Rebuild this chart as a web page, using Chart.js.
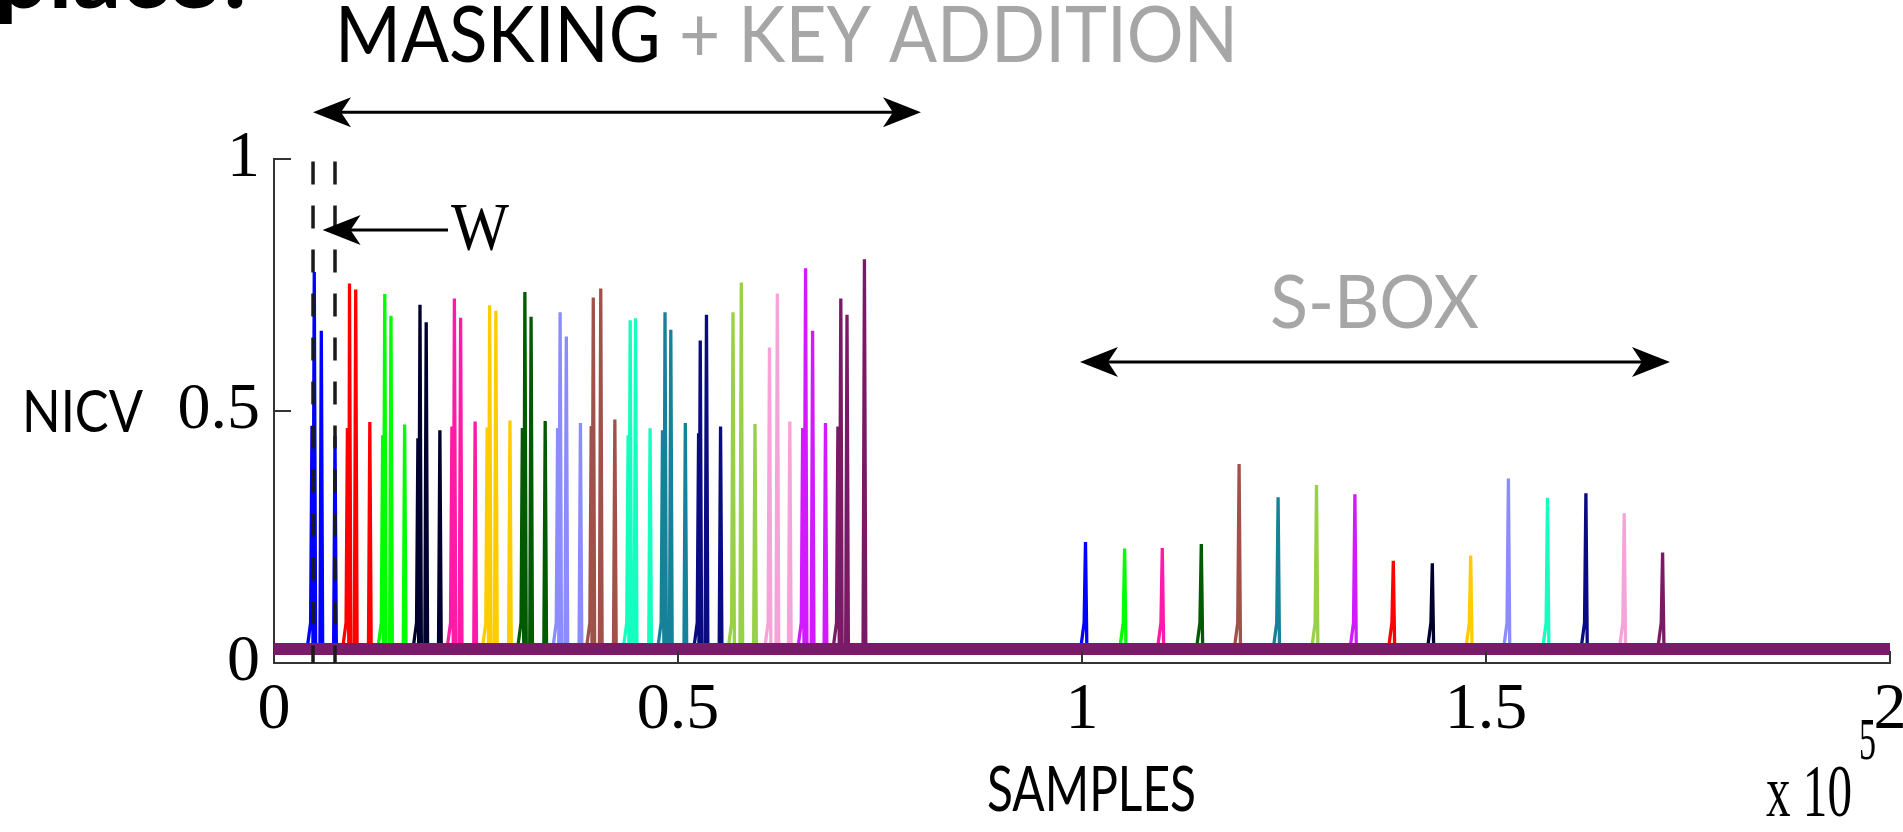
<!DOCTYPE html>
<html>
<head>
<meta charset="utf-8">
<script src="https://cdn.jsdelivr.net/npm/chart.js@4.4.1/dist/chart.umd.min.js"></script>
<style>
  html, body { margin: 0; padding: 0; background: #fff; }
  #wrap { width: 1903px; height: 832px; }
</style>
</head>
<body>
<div id="wrap"><canvas id="chart" width="1903" height="832"></canvas></div>
<script>
// one colour per key byte (same order in both phases)
const byteColors = [
  "#0000ff", "#ff0000", "#00ff00", "#00002e", "#ff1aa8", "#ffcc00", "#005a00", "#8c8cff",
  "#a0524a", "#14ffc0", "#16829a", "#0a0a82", "#98d048", "#f5a3d9", "#d21aff", "#7a1a66"
];

// masking + key addition peaks, per byte (samples, NICV)
const maskPeakX = [
  [4700, 4983, 5855, 7548],
  [9088, 9344, 10114, 11859],
  [13449, 13706, 14475, 16168],
  [17811, 18067, 18837, 20530],
  [22018, 22325, 23095, 24891],
  [26380, 26688, 27457, 29202],
  [30741, 31049, 31818, 33563],
  [35103, 35411, 36179, 37925],
  [39260, 39515, 40439, 42183],
  [43825, 44082, 44749, 46545],
  [48084, 48392, 49110, 50906],
  [52548, 52754, 53524, 55267],
  [56807, 57833, 59527],
  [61323, 62297, 63837],
  [65427, 65787, 66658, 68250],
  [69789, 70149, 70917, 73073]
];
const maskPeakY = [
  [0.47, 0.776, 0.659, 0.45],
  [0.466, 0.753, 0.741, 0.478],
  [0.452, 0.732, 0.689, 0.473],
  [0.446, 0.711, 0.676, 0.462],
  [0.469, 0.723, 0.685, 0.479],
  [0.467, 0.710, 0.699, 0.481],
  [0.466, 0.736, 0.687, 0.480],
  [0.466, 0.696, 0.648, 0.476],
  [0.47, 0.725, 0.743, 0.483],
  [0.452, 0.680, 0.684, 0.466],
  [0.462, 0.696, 0.661, 0.476],
  [0.456, 0.640, 0.691, 0.469],
  [0.696, 0.755, 0.474],
  [0.626, 0.733, 0.479],
  [0.466, 0.783, 0.659, 0.476],
  [0.469, 0.723, 0.691, 0.801]
];

// s-box peaks, one per byte
const sboxPeakX = [100433, 138527, 105272, 143354, 109938, 148106, 114765, 152772,
                   119443, 157611, 124270, 162364, 129022, 167104, 133775, 171856];
const sboxPeakY = [0.240, 0.203, 0.227, 0.198, 0.228, 0.213, 0.236, 0.366,
                   0.395, 0.328, 0.329, 0.337, 0.353, 0.297, 0.335, 0.219];

const noiseFloor = 0.028;
const footLevel = 0.08;         // small shoulder at the base of each burst
const windowX = [4830, 7550];   // "W" window edges
const windowTop = 0.995;

const xTickLabels = ["0", "0.5", "1", "1.5", "2"];
const yTickLabels = ["0", "0.5", "1"];

// arrows (data coords)
const maskArrow = { x0: 4830, x1: 80070, y: 1.093 };
const sboxArrow = { x0: 99750, x1: 172770, y: 0.597 };
const wArrow = { tip: 6015, tail: 21535, y: 0.859 };

// build one polyline for a byte: floor -> spike -> floor, foot on first spike of a burst
function spikeLine(groups) {
  const pts = [];
  groups.forEach(([xs, ys]) => {
    const idx = xs.map((_, i) => i).sort((a, b) => xs[a] - xs[b]);
    idx.forEach((i, k) => {
      if (k === 0) {
        pts.push({ x: xs[i] - 600, y: noiseFloor });
        pts.push({ x: xs[i] - 170, y: footLevel });
      } else {
        pts.push({ x: xs[i] - 170, y: noiseFloor });
      }
      pts.push({ x: xs[i], y: ys[i] });
      pts.push({ x: xs[i] + 170, y: noiseFloor });
    });
  });
  return pts;
}

const datasets = [];

// thick noise floor on top of the spike bases
datasets.push({
  data: [{ x: 0, y: noiseFloor }, { x: 200000, y: noiseFloor }],
  borderColor: "#7b1a6b",
  borderWidth: 12,
  order: 0
});

byteColors.forEach((c, i) => {
  datasets.push({
    data: spikeLine([[maskPeakX[i], maskPeakY[i]], [[sboxPeakX[i]], [sboxPeakY[i]]]]),
    borderColor: c,
    borderWidth: 3.3,
    order: 1
  });
});

windowX.forEach(wx => {
  datasets.push({
    data: [{ x: wx, y: windowTop }, { x: wx, y: 0 }],
    borderColor: "#1a1a1a",
    borderWidth: 3.5,
    borderDash: [23, 21],
    order: -1
  });
});

function arrowHead(ctx, tx, ty, dir) {
  // stealth style head, dir = -1 points left, +1 points right
  ctx.beginPath();
  ctx.moveTo(tx, ty);
  ctx.lineTo(tx - dir * 38, ty - 15);
  ctx.lineTo(tx - dir * 28, ty);
  ctx.lineTo(tx - dir * 38, ty + 15);
  ctx.closePath();
  ctx.fill();
}

function fitText(ctx, parts, left, base, size, family, weight, width) {
  ctx.font = `${weight} ${size}px ${family}`;
  const full = parts.map(p => p[0]).join("");
  const w = ctx.measureText(full).width;
  const sx = width ? width / w : 1;
  ctx.save();
  ctx.translate(left, base);
  ctx.scale(sx, 1);
  ctx.textAlign = "left";
  ctx.textBaseline = "alphabetic";
  let cx = 0;
  parts.forEach(([t, col]) => {
    ctx.fillStyle = col;
    ctx.fillText(t, cx, 0);
    cx += ctx.measureText(t).width;
  });
  ctx.restore();
}

const annotations = {
  id: "annotations",
  afterDraw(chart) {
    const { ctx } = chart;
    const xs = chart.scales.x, ys = chart.scales.y;
    ctx.save();

    // inward ticks like matlab
    ctx.strokeStyle = "#333";
    ctx.lineWidth = 2;
    [0.5, 1].forEach(v => {
      const py = ys.getPixelForValue(v);
      ctx.beginPath(); ctx.moveTo(xs.left, py); ctx.lineTo(xs.left + 17, py); ctx.stroke();
    });
    [50000, 100000, 150000, 200000].forEach(v => {
      const px = xs.getPixelForValue(v);
      ctx.beginPath(); ctx.moveTo(px, ys.bottom); ctx.lineTo(px, ys.bottom - 12); ctx.stroke();
    });

    // arrows
    ctx.fillStyle = "#000";
    ctx.strokeStyle = "#000";
    ctx.lineWidth = 3;
    [maskArrow, sboxArrow].forEach(a => {
      const x0 = xs.getPixelForValue(a.x0), x1 = xs.getPixelForValue(a.x1), py = ys.getPixelForValue(a.y);
      ctx.beginPath(); ctx.moveTo(x0 + 20, py); ctx.lineTo(x1 - 20, py); ctx.stroke();
      arrowHead(ctx, x0, py, -1);
      arrowHead(ctx, x1, py, 1);
    });
    const wt = xs.getPixelForValue(wArrow.tip), wl = xs.getPixelForValue(wArrow.tail), wy = ys.getPixelForValue(wArrow.y);
    ctx.beginPath(); ctx.moveTo(wt + 20, wy); ctx.lineTo(wl, wy); ctx.stroke();
    arrowHead(ctx, wt, wy, -1);

    // texts
    fitText(ctx, [["place?", "#000"]], -6, 8, 96, "Lato", "bold", 0);
    fitText(ctx, [["MASKING", "#000"], [" + KEY ADDITION", "#a6a6a6"]], 335, 62, 77, "Lato", "normal", 903);
    fitText(ctx, [["S-BOX", "#a6a6a6"]], 1270, 328, 74, "Lato", "normal", 209);
    fitText(ctx, [["NICV", "#000"]], 22, 432, 59, "Lato", "normal", 121);
    fitText(ctx, [["SAMPLES", "#000"]], 987, 811, 61, "Lato", "normal", 209);
    fitText(ctx, [["W", "#000"]], 451, 249, 67, "Liberation Serif", "normal", 58);
    fitText(ctx, [["x 10", "#000"]], 1766, 816, 74, "Liberation Serif", "normal", 86);
    fitText(ctx, [["5", "#000"]], 1859, 759, 60, "Liberation Serif", "normal", 17);

    ctx.restore();
  }
};

const tickFont = { family: "Liberation Serif", size: 66 };

new Chart(document.getElementById("chart"), {
  type: "line",
  data: { datasets },
  options: {
    responsive: false,
    animation: false,
    devicePixelRatio: 1,
    layout: { padding: { top: 159, right: 13, left: 0, bottom: 0 } },
    elements: { point: { radius: 0 }, line: { tension: 0 } },
    plugins: { legend: { display: false }, tooltip: { enabled: false } },
    scales: {
      x: {
        type: "linear",
        min: 0,
        max: 200000,
        grid: { display: false, drawTicks: false },
        border: { display: true, color: "#333", width: 2 },
        ticks: {
          stepSize: 50000,
          maxRotation: 0,
          autoSkip: false,
          padding: 8,
          color: "#000",
          font: tickFont,
          callback: (v, i) => xTickLabels[i]
        },
        afterFit: s => { s.height = 169; s.paddingLeft = 0; s.paddingRight = 0; }
      },
      y: {
        min: 0,
        max: 1,
        grid: { display: false, drawTicks: false },
        border: { display: true, color: "#333", width: 2 },
        ticks: {
          stepSize: 0.5,
          padding: 14,
          color: "#000",
          font: tickFont,
          callback: (v, i) => yTickLabels[i]
        },
        afterFit: s => { s.width = 274; s.paddingTop = 0; s.paddingBottom = 0; }
      }
    }
  },
  plugins: [annotations]
});
</script>
</body>
</html>
